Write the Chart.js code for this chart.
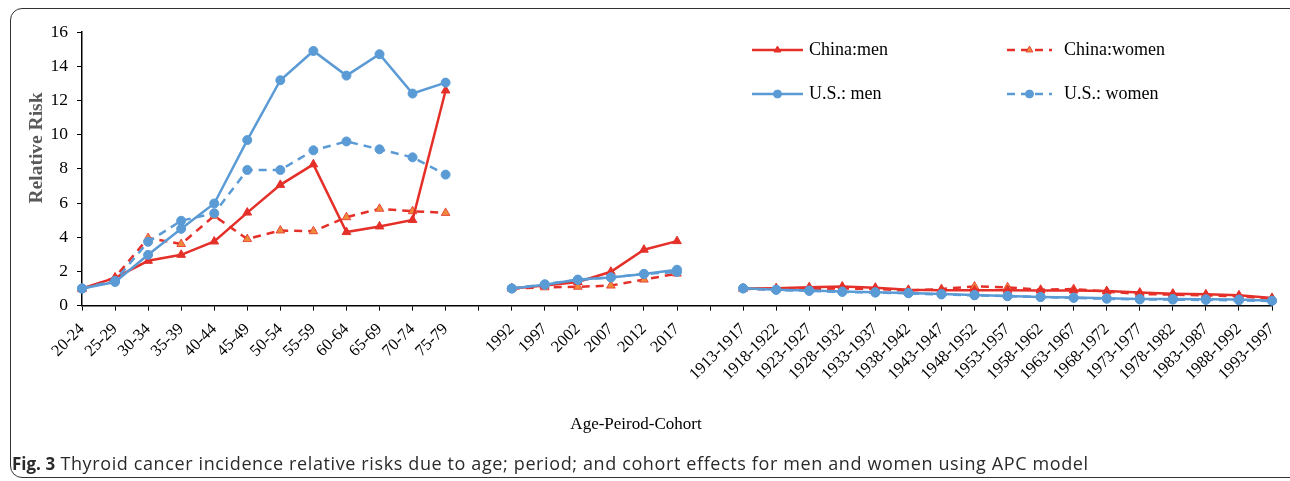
<!DOCTYPE html>
<html><head><meta charset="utf-8">
<script src="https://cdn.jsdelivr.net/npm/chart.js@4.4.1/dist/chart.umd.min.js"></script>
<style>
html,body{margin:0;padding:0;background:#fff;}
#wrap{position:relative;width:1290px;height:481px;overflow:hidden;background:#fff;}
#frame{position:absolute;left:10px;top:8px;width:1300px;height:470px;border:1.5px solid #333;border-radius:12px;box-sizing:border-box;}
#c{position:absolute;left:0;top:0;}
#cap{position:absolute;left:12px;top:451px;font-family:'Open Sans';font-size:18px;letter-spacing:0.62px;color:#2a2a2a;white-space:nowrap;}
#cap b{font-weight:700;font-size:17px;letter-spacing:0;}
</style></head>
<body>
<div id="wrap">
<div id="frame"></div>
<canvas id="c" width="1290" height="481"></canvas>
<div id="cap"><b>Fig. 3</b> Thyroid cancer incidence relative risks due to age; period; and cohort effects for men and women using APC model</div>
</div>
<script>
// ---- Data ----
const ageGroups = ['20-24','25-29','30-34','35-39','40-44','45-49','50-54','55-59','60-64','65-69','70-74','75-79'];
const periods = ['1992','1997','2002','2007','2012','2017'];
const cohorts = ['1913-1917','1918-1922','1923-1927','1928-1932','1933-1937','1938-1942','1943-1947','1948-1952','1953-1957','1958-1962','1963-1967','1968-1972','1973-1977','1978-1982','1983-1987','1988-1992','1993-1997'];

const chinaMenAge   = [1.00,1.62,2.62,2.97,3.75,5.44,7.06,8.26,4.30,4.63,5.01,12.58];
const chinaWomenAge = [0.95,1.65,3.95,3.60,5.25,3.89,4.39,4.35,5.17,5.66,5.52,5.42];
const usMenAge      = [1.00,1.38,2.97,4.49,5.97,9.68,13.18,14.89,13.45,14.70,12.40,13.04];
const usWomenAge    = [1.00,1.45,3.73,4.96,5.40,7.93,7.93,9.08,9.60,9.14,8.67,7.66];

const chinaMenPeriod   = [1.00,1.17,1.38,1.98,3.27,3.77];
const chinaWomenPeriod = [1.00,1.07,1.10,1.17,1.52,1.87];
const usMenPeriod      = [1.00,1.22,1.52,1.65,1.85,2.10];
const usWomenPeriod    = [1.00,1.25,1.50,1.65,1.85,1.97];

const chinaMenCohort   = [1.00,1.02,1.08,1.12,1.05,0.92,0.90,0.90,0.90,0.88,0.88,0.85,0.76,0.70,0.66,0.60,0.45];
const chinaWomenCohort = [0.98,0.95,0.97,1.00,0.97,0.88,0.97,1.12,1.07,0.93,0.97,0.82,0.68,0.64,0.60,0.55,0.40];
const usMenCohort      = [1.01,0.93,0.88,0.82,0.78,0.74,0.68,0.62,0.56,0.51,0.47,0.43,0.39,0.39,0.37,0.35,0.29];
const usWomenCohort    = [1.00,0.92,0.86,0.80,0.76,0.72,0.65,0.60,0.55,0.50,0.45,0.40,0.36,0.35,0.33,0.31,0.27];

const yTicks = [0,2,4,6,8,10,12,14,16];

// ---- Build ----
const labels = [...ageGroups, '', ...periods, '', ...cohorts];
const join = (a,p,c) => [...a, null, ...p, null, ...c];
const RED = '#E5302A', ORANGE = '#F0883A', BLUE = '#5B9BD5';
const SERIF = 'Liberation Serif';

const datasets = [
  {label:'China:men', data: join(chinaMenAge, chinaMenPeriod, chinaMenCohort),
   borderColor:RED, backgroundColor:RED, borderWidth:2.5, pointStyle:'triangle', pointRadius:5,
   pointBackgroundColor:RED, pointBorderColor:RED, pointBorderWidth:1, order:3},
  {label:'China:women', data: join(chinaWomenAge, chinaWomenPeriod, chinaWomenCohort),
   borderColor:RED, backgroundColor:ORANGE, borderWidth:2.5, borderDash:[8,6], pointStyle:'triangle', pointRadius:5,
   pointBackgroundColor:ORANGE, pointBorderColor:RED, pointBorderWidth:0.8, order:4},
  {label:'U.S.: men', data: join(usMenAge, usMenPeriod, usMenCohort),
   borderColor:BLUE, backgroundColor:BLUE, borderWidth:2.5, pointStyle:'circle', pointRadius:4.5,
   pointBackgroundColor:BLUE, pointBorderColor:BLUE, pointBorderWidth:1, order:1},
  {label:'U.S.: women', data: join(usWomenAge, usWomenPeriod, usWomenCohort),
   borderColor:BLUE, backgroundColor:BLUE, borderWidth:2.5, borderDash:[8,6], pointStyle:'circle', pointRadius:4.5,
   pointBackgroundColor:BLUE, pointBorderColor:BLUE, pointBorderWidth:1, order:2}
];

const legendPos = [
  {x1:752, x2:803, tx:809, y:50},
  {x1:1007, x2:1052, tx:1064, y:50},
  {x1:752, x2:803, tx:809, y:94},
  {x1:1007, x2:1052, tx:1064, y:94}
];

const annot = {
  id:'annot',
  afterDraw(chart){
    const ctx = chart.ctx;
    ctx.save();
    ctx.translate(37,148);
    ctx.rotate(-Math.PI/2);
    ctx.font = 'bold 19.5px "' + SERIF + '"';
    ctx.fillStyle = '#595959';
    ctx.textAlign = 'center';
    ctx.textBaseline = 'middle';
    ctx.fillText('Relative Risk', 0, 0);
    ctx.restore();
    datasets.forEach((ds,i)=>{
      const p = legendPos[i];
      ctx.save();
      ctx.strokeStyle = ds.borderColor;
      ctx.lineWidth = 2.5;
      ctx.setLineDash(ds.borderDash || []);
      ctx.beginPath();
      ctx.moveTo(p.x1, p.y); ctx.lineTo(p.x2, p.y);
      ctx.stroke();
      ctx.setLineDash([]);
      ctx.fillStyle = ds.pointBackgroundColor;
      ctx.strokeStyle = ds.pointBorderColor;
      ctx.lineWidth = ds.pointBorderWidth;
      Chart.helpers.drawPoint(ctx, {pointStyle: ds.pointStyle, radius: 4, borderWidth: ds.pointBorderWidth, rotation:0}, (p.x1+p.x2)/2, p.y);
      ctx.fillStyle = '#000';
      ctx.font = '18px "' + SERIF + '"';
      ctx.textAlign = 'left';
      ctx.textBaseline = 'middle';
      ctx.fillText(ds.label, p.tx, p.y);
      ctx.restore();
    });
  }
};

new Chart(document.getElementById('c'), {
  type:'line',
  data:{labels, datasets},
  options:{
    responsive:false, animation:false, devicePixelRatio:1,
    spanGaps:false,
    layout:{padding:{left:0, right:18, top:32, bottom:46}},
    plugins:{
      legend:{display:false},
      tooltip:{enabled:false},
      title:{display:true, position:'bottom', text:'Age-Peirod-Cohort', color:'#000',
        font:{family:SERIF, size:17, weight:'normal'}, padding:{top:0,bottom:0}}
    },
    scales:{
      x:{type:'category', offset:false,
        grid:{drawOnChartArea:false, drawTicks:true, tickLength:5, color:'#000', lineWidth:1},
        border:{color:'#000', width:1.5},
        ticks:{autoSkip:false, maxRotation:45, minRotation:45, color:'#000', padding:9,
          font:{family:SERIF, size:16.5}},
        afterFit:(s)=>{ s.height = 109; s.paddingRight = 0; s.paddingLeft = 0; }
      },
      y:{min:0, max:16,
        afterBuildTicks:(s)=>{ s.ticks = yTicks.map(v=>({value:v})); },
        grid:{drawOnChartArea:false, drawTicks:true, tickLength:5, color:'#000', lineWidth:1},
        border:{color:'#000', width:1.5},
        ticks:{color:'#000', padding:9, font:{family:SERIF, size:17.5}},
        afterFit:(s)=>{ s.width = 82; }
      }
    }
  },
  plugins:[annot]
});
</script>
</body></html>
